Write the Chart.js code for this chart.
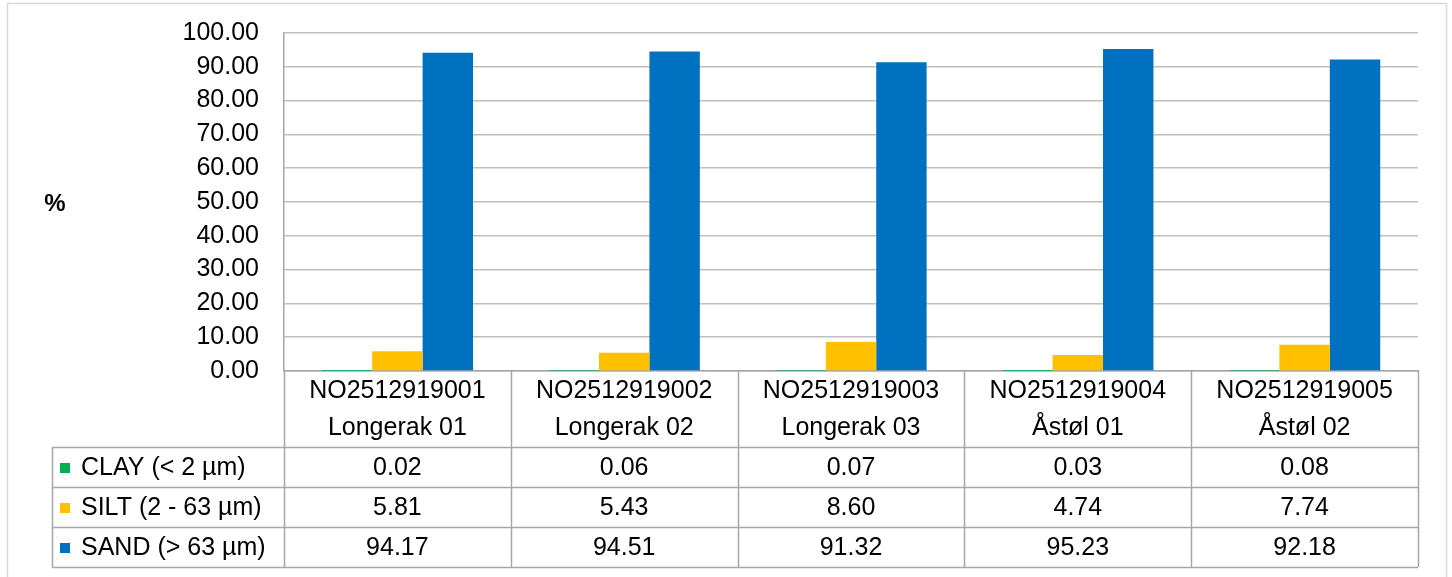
<!DOCTYPE html>
<html>
<head>
<meta charset="utf-8">
<script src="https://cdn.jsdelivr.net/npm/chart.js@4/dist/chart.umd.min.js"></script>
<style>
  html, body { margin: 0; padding: 0; background: #fff; }
  canvas { display: block; }
</style>
</head>
<body>
<canvas id="chart" width="1452" height="577"></canvas>
<script>
const sampleIds = ['NO2512919001', 'NO2512919002', 'NO2512919003', 'NO2512919004', 'NO2512919005']
const sampleNames = ['Longerak 01', 'Longerak 02', 'Longerak 03', 'Åstøl 01', 'Åstøl 02']
const seriesNames = ['CLAY (< 2 µm)', 'SILT (2 - 63 µm)', 'SAND (> 63 µm)']
const clay = [0.02, 0.06, 0.07, 0.03, 0.08]
const silt = [5.81, 5.43, 8.60, 4.74, 7.74]
const sand = [94.17, 94.51, 91.32, 95.23, 92.18]
const yTicks = [0, 10, 20, 30, 40, 50, 60, 70, 80, 90, 100]

const colors = ['#00b050', '#ffc000', '#0070c0']
const FONT = "'Liberation Sans', Arial, sans-serif"
const lineColor = '#a6a6a6'
const gridColor = '#bfbfbf'
const rowH = 40
const tableLeft = 52

Chart.defaults.font.family = FONT
Chart.defaults.color = '#000'

// Excel-style data table under the x axis, plus the outer frame and the "%" label
const tablePlugin = {
  id: 'dataTable',
  beforeDraw(chart) {
    const ctx = chart.ctx
    ctx.save()
    ctx.strokeStyle = '#d9d9d9'
    ctx.lineWidth = 1.5
    ctx.strokeRect(7.5, 3.5, 1439, 620)
    ctx.restore()
  },
  afterDraw(chart) {
    const ctx = chart.ctx
    const x = chart.scales.x
    const n = chart.data.labels.length
    const colW = (x.right - x.left) / n
    const top = x.bottom
    const sets = chart.data.datasets

    ctx.save()
    ctx.strokeStyle = lineColor
    ctx.lineWidth = 1.5

    // vertical separators (header + rows)
    for (let i = 0; i <= n; i++) {
      const px = Math.round(x.left + i * colW) + 0.5
      ctx.beginPath()
      ctx.moveTo(px, x.top)
      ctx.lineTo(px, top + rowH * sets.length)
      ctx.stroke()
    }
    ctx.beginPath()
    ctx.moveTo(tableLeft + 0.5, top)
    ctx.lineTo(tableLeft + 0.5, top + rowH * sets.length)
    ctx.stroke()

    // horizontal row lines
    for (let r = 0; r <= sets.length; r++) {
      const py = Math.round(top + r * rowH) + 0.5
      ctx.beginPath()
      ctx.moveTo(tableLeft, py)
      ctx.lineTo(x.right, py)
      ctx.stroke()
    }

    ctx.font = '25px ' + FONT
    ctx.textBaseline = 'middle'
    ctx.fillStyle = '#000'
    sets.forEach((ds, r) => {
      const cy = top + r * rowH + rowH / 2 + 1
      ctx.fillStyle = ds.backgroundColor
      ctx.fillRect(60, Math.round(cy - 5), 10, 10)
      ctx.fillStyle = '#000'
      ctx.textAlign = 'left'
      ctx.fillText(ds.label, 81, cy)
      ctx.textAlign = 'center'
      ds.data.forEach((v, i) => {
        ctx.fillText(v.toFixed(2), x.getPixelForValue(i), cy)
      })
    })

    // axis unit label
    ctx.font = 'bold 24px ' + FONT
    ctx.textAlign = 'center'
    ctx.fillText('%', 55, 204)
    ctx.restore()
  }
}

new Chart(document.getElementById('chart'), {
  type: 'bar',
  data: {
    labels: sampleIds.map((id, i) => [id, sampleNames[i]]),
    datasets: [clay, silt, sand].map((d, i) => ({
      label: seriesNames[i],
      data: d,
      backgroundColor: colors[i],
      borderWidth: 0
    }))
  },
  options: {
    responsive: false,
    animation: false,
    devicePixelRatio: 1,
    layout: { padding: { top: 33, right: 34, bottom: 130, left: 0 } },
    datasets: {
      bar: { categoryPercentage: 0.667, barPercentage: 1 }
    },
    plugins: {
      legend: { display: false },
      tooltip: { enabled: false }
    },
    scales: {
      x: {
        afterFit(s) { s.height = 76 },
        grid: { display: false, drawTicks: false },
        border: { color: lineColor, width: 1.5 },
        ticks: {
          padding: 2,
          maxRotation: 0,
          autoSkip: false,
          font: { size: 25, lineHeight: 1.48 }
        }
      },
      y: {
        min: 0,
        max: 100,
        afterFit(s) {
          s.width = 284
          s.paddingTop = 0
          s.paddingBottom = 0
        },
        afterBuildTicks(s) { s.ticks = yTicks.map(v => ({ value: v })) },
        grid: { color: gridColor, lineWidth: 1.5, drawTicks: false },
        border: { color: lineColor, width: 1.5 },
        ticks: {
          padding: 25,
          font: { size: 25 },
          callback: v => Number(v).toFixed(2)
        }
      }
    }
  },
  plugins: [tablePlugin]
})
</script>
</body>
</html>
